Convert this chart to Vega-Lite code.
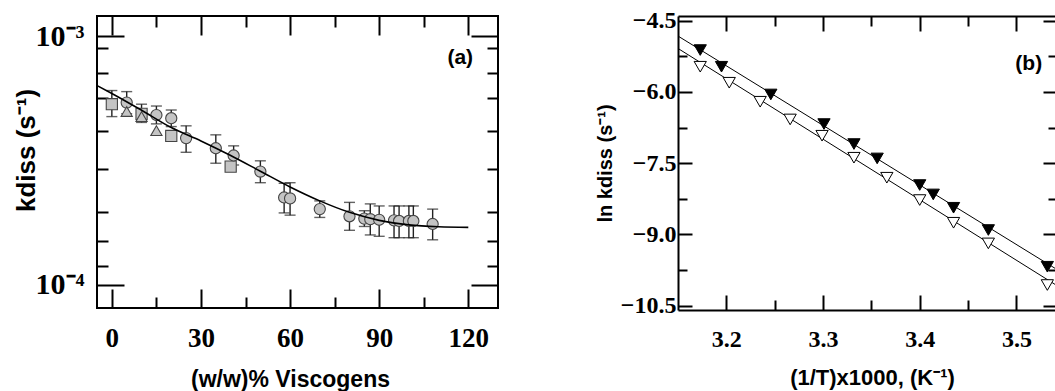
{
  "$schema": "https://vega.github.io/schema/vega-lite/v6.json",
  "padding": {"left": 11, "top": 8, "right": 0, "bottom": 0},
  "background": "white",
  "bounds": "flush",
  "spacing": 180,
  "datasets": {
    "curveA": [
      {"x": -5, "k": 0.000635}, {"x": 0, "k": 0.00059}, {"x": 10, "k": 0.000505},
      {"x": 20, "k": 0.00043}, {"x": 30, "k": 0.00038}, {"x": 40, "k": 0.000332},
      {"x": 50, "k": 0.000287}, {"x": 60, "k": 0.000248}, {"x": 70, "k": 0.000218},
      {"x": 80, "k": 0.000196}, {"x": 90, "k": 0.000182}, {"x": 100, "k": 0.0001745},
      {"x": 110, "k": 0.0001715}, {"x": 120, "k": 0.0001706}
    ],
    "ptsA": [
      {"x": 0, "k": 0.000534, "type": "square", "lo": 0.000476, "hi": 0.000606},
      {"x": 5, "k": 0.000542, "type": "circle", "lo": 0.000489, "hi": 0.0006},
      {"x": 5, "k": 0.000499, "type": "triangle"},
      {"x": 10, "k": 0.000488, "type": "square", "lo": 0.000451, "hi": 0.000534},
      {"x": 10, "k": 0.000476, "type": "triangle"},
      {"x": 15, "k": 0.000483, "type": "circle", "lo": 0.000445, "hi": 0.000525},
      {"x": 15, "k": 0.000418, "type": "triangle"},
      {"x": 20, "k": 0.000469, "type": "circle", "lo": 0.000434, "hi": 0.000506},
      {"x": 20, "k": 0.000398, "type": "square"},
      {"x": 25, "k": 0.00039, "type": "circle", "lo": 0.000342, "hi": 0.000437},
      {"x": 35, "k": 0.000355, "type": "circle", "lo": 0.000309, "hi": 0.000402},
      {"x": 40, "k": 0.0002995, "type": "square"},
      {"x": 41, "k": 0.000332, "type": "circle", "lo": 0.000304, "hi": 0.000363},
      {"x": 50, "k": 0.000286, "type": "circle", "lo": 0.000258, "hi": 0.000316},
      {"x": 58, "k": 0.000225, "type": "circle", "lo": 0.000195, "hi": 0.0002565},
      {"x": 60, "k": 0.000223, "type": "circle", "lo": 0.000191, "hi": 0.000258},
      {"x": 70, "k": 0.000202, "type": "circle", "lo": 0.000187, "hi": 0.000218},
      {"x": 80, "k": 0.000189, "type": "circle", "lo": 0.000166, "hi": 0.000215},
      {"x": 85, "k": 0.000185, "type": "circle", "lo": 0.000172, "hi": 0.000199},
      {"x": 87, "k": 0.000184, "type": "circle", "lo": 0.000159, "hi": 0.000212},
      {"x": 90, "k": 0.000183, "type": "circle", "lo": 0.000157, "hi": 0.000208},
      {"x": 95, "k": 0.000182, "type": "circle", "lo": 0.000155, "hi": 0.000208},
      {"x": 96.7, "k": 0.000181, "type": "circle", "lo": 0.000155, "hi": 0.000208},
      {"x": 100, "k": 0.000181, "type": "circle", "lo": 0.000155, "hi": 0.000208},
      {"x": 101.5, "k": 0.000181, "type": "circle", "lo": 0.000155, "hi": 0.000208},
      {"x": 108, "k": 0.000176, "type": "circle", "lo": 0.000152, "hi": 0.000202}
    ],
    "linesB": [
      {"x": 3.15, "y": -4.822, "s": "filled"}, {"x": 3.542, "y": -9.738, "s": "filled"},
      {"x": 3.15, "y": -5.083, "s": "open"}, {"x": 3.542, "y": -10.077, "s": "open"}
    ],
    "ptsB": [
      {"x": 3.173, "y": -5.117, "s": "filled"}, {"x": 3.195, "y": -5.468, "s": "filled"},
      {"x": 3.246, "y": -6.052, "s": "filled"}, {"x": 3.301, "y": -6.675, "s": "filled"},
      {"x": 3.332, "y": -7.096, "s": "filled"}, {"x": 3.356, "y": -7.399, "s": "filled"},
      {"x": 3.4, "y": -7.959, "s": "filled"}, {"x": 3.414, "y": -8.157, "s": "filled"},
      {"x": 3.435, "y": -8.437, "s": "filled"}, {"x": 3.471, "y": -8.906, "s": "filled"},
      {"x": 3.532, "y": -9.679, "s": "filled"},
      {"x": 3.173, "y": -5.468, "s": "open"}, {"x": 3.203, "y": -5.805, "s": "open"},
      {"x": 3.235, "y": -6.205, "s": "open"}, {"x": 3.266, "y": -6.578, "s": "open"},
      {"x": 3.299, "y": -6.921, "s": "open"}, {"x": 3.332, "y": -7.384, "s": "open"},
      {"x": 3.366, "y": -7.805, "s": "open"}, {"x": 3.4, "y": -8.275, "s": "open"},
      {"x": 3.435, "y": -8.753, "s": "open"}, {"x": 3.471, "y": -9.188, "s": "open"},
      {"x": 3.532, "y": -10.064, "s": "open"}
    ],
    "labA": [{"x": 117.3, "k": 0.000818, "t": "(a)"}],
    "labB": [{"x": 3.5128, "y": -5.416, "t": "(b)"}]
  },
  "config": {
    "view": {"stroke": "black", "strokeWidth": 2},
    "axis": {
      "grid": false, "tickColor": "black", "tickWidth": 2, "domainColor": "black", "domainWidth": 2,
      "labelFont": "Liberation Serif", "labelFontWeight": "bold", "labelColor": "black",
      "titleFont": "Liberation Sans", "titleFontWeight": "bold", "titleColor": "black",
      "labelFlush": false, "labelOverlap": false
    }
  },
  "hconcat": [
    {
      "width": 401, "height": 292,
      "layer": [
        {
          "data": {"name": "ptsA"},
          "transform": [{"filter": "isValid(datum.lo)"}],
          "mark": {"type": "rule", "color": "#222", "strokeWidth": 1.4},
          "encoding": {
            "x": {"field": "x", "type": "quantitative", "scale": {"domain": [-5, 130], "nice": false, "zero": false},
              "axis": {"orient": "bottom", "domain": false, "values": [0, 15, 30, 45, 60, 75, 90, 105, 120],
                "labelExpr": "datum.value % 30 === 0 ? datum.label : ''",
                "tickSize": {"condition": {"test": "datum.value % 30 === 0", "value": -19}, "value": -11},
                "labelPadding": 36, "labelFontSize": 27,
                "title": "(w/w)% Viscogens", "titleFontSize": 23, "titleX": 193, "titleY": 78, "titleBaseline": "alphabetic"}},
            "y": {"field": "lo", "type": "quantitative", "scale": {"type": "log", "domain": [0.0000808, 0.001209], "nice": false, "zero": false},
              "axis": {"orient": "left", "domain": false,
                "values": [0.001, 0.000901, 0.000715, 0.000563, 0.000416, 0.000294, 0.000197, 0.000151, 0.000119, 0.0001],
                "labelExpr": "datum.value > 0.00095 ? '10⁻³' : datum.value < 0.000105 ? '10⁻⁴' : ''",
                "tickSize": {"condition": {"test": "datum.value > 0.00095 || datum.value < 0.000105", "value": -27}, "value": -11},
                "labelPadding": 40, "labelFontSize": 30,
                "title": "kdiss (s⁻¹)", "titleFontSize": 26, "titleX": -58, "titleY": 134, "titleBaseline": "bottom"}},
            "y2": {"field": "hi"}
          }
        },
        {
          "data": {"name": "ptsA"},
          "transform": [{"filter": "isValid(datum.lo)"}],
          "mark": {"type": "tick", "orient": "horizontal", "color": "#222", "size": 11, "thickness": 1.4},
          "encoding": {
            "x": {"field": "x", "type": "quantitative", "scale": {"domain": [-5, 130], "nice": false, "zero": false}, "axis": null},
            "y": {"field": "lo", "type": "quantitative", "scale": {"type": "log", "domain": [0.0000808, 0.001209], "nice": false, "zero": false}, "axis": null}
          }
        },
        {
          "data": {"name": "ptsA"},
          "transform": [{"filter": "isValid(datum.hi)"}],
          "mark": {"type": "tick", "orient": "horizontal", "color": "#222", "size": 11, "thickness": 1.4},
          "encoding": {
            "x": {"field": "x", "type": "quantitative", "scale": {"domain": [-5, 130], "nice": false, "zero": false}, "axis": null},
            "y": {"field": "hi", "type": "quantitative", "scale": {"type": "log", "domain": [0.0000808, 0.001209], "nice": false, "zero": false}, "axis": null}
          }
        },
        {
          "data": {"name": "ptsA"},
          "mark": {"type": "point", "filled": true, "fill": "#c4c4c4", "stroke": "#444", "strokeWidth": 1.1, "size": 125, "opacity": 1},
          "encoding": {
            "x": {"field": "x", "type": "quantitative", "scale": {"domain": [-5, 130], "nice": false, "zero": false}, "axis": null},
            "y": {"field": "k", "type": "quantitative", "scale": {"type": "log", "domain": [0.0000808, 0.001209], "nice": false, "zero": false}, "axis": null},
            "shape": {"field": "type", "type": "nominal", "scale": {"domain": ["circle", "square", "triangle"], "range": ["circle", "square", "triangle-up"]}, "legend": null}
          }
        },
        {
          "data": {"name": "curveA"},
          "mark": {"type": "line", "color": "black", "strokeWidth": 1.6, "interpolate": "monotone"},
          "encoding": {
            "x": {"field": "x", "type": "quantitative", "scale": {"domain": [-5, 130], "nice": false, "zero": false},
              "axis": {"orient": "top", "domain": false, "labels": false, "title": null, "values": [0, 15, 30, 45, 60, 75, 90, 105, 120],
                "tickSize": {"condition": {"test": "datum.value % 30 === 0", "value": -19}, "value": -11}}},
            "y": {"field": "k", "type": "quantitative", "scale": {"type": "log", "domain": [0.0000808, 0.001209], "nice": false, "zero": false},
              "axis": {"orient": "right", "domain": false, "labels": false, "title": null,
                "values": [0.001, 0.000901, 0.000715, 0.000563, 0.000416, 0.000294, 0.000197, 0.000151, 0.000119, 0.0001],
                "tickSize": {"condition": {"test": "datum.value > 0.00095 || datum.value < 0.000105", "value": -27}, "value": -11}}}
          }
        },
        {
          "data": {"name": "labA"},
          "mark": {"type": "text", "font": "Liberation Sans", "fontWeight": "bold", "fontSize": 21, "align": "center", "baseline": "middle", "color": "black"},
          "encoding": {
            "x": {"field": "x", "type": "quantitative", "scale": {"domain": [-5, 130], "nice": false, "zero": false}, "axis": null},
            "y": {"field": "k", "type": "quantitative", "scale": {"type": "log", "domain": [0.0000808, 0.001209], "nice": false, "zero": false}, "axis": null},
            "text": {"field": "t"}
          }
        }
      ],
      "resolve": {"axis": {"x": "independent", "y": "independent"}}
    },
    {
      "width": 379, "height": 294,
      "view": {"stroke": null},
      "layer": [
        {
          "data": {"name": "linesB"},
          "mark": {"type": "line", "color": "black", "strokeWidth": 1, "clip": true},
          "encoding": {
            "x": {"field": "x", "type": "quantitative", "scale": {"domain": [3.15, 3.542], "nice": false, "zero": false},
              "axis": {"orient": "bottom", "domain": true, "values": [3.2, 3.25, 3.3, 3.35, 3.4, 3.45, 3.5],
                "labelExpr": "abs(datum.value * 10 - round(datum.value * 10)) < 0.001 ? format(datum.value, '.1f') : ''",
                "tickSize": {"condition": {"test": "abs(datum.value * 10 - round(datum.value * 10)) < 0.001", "value": -15}, "value": -10},
                "labelPadding": 32, "labelFontSize": 24,
                "title": "(1/T)x1000, (K⁻¹)", "titleFontSize": 22, "titleX": 194, "titleY": 74, "titleBaseline": "alphabetic"}},
            "y": {"field": "y", "type": "quantitative", "scale": {"domain": [-10.59, -4.4], "nice": false, "zero": false},
              "axis": {"orient": "left", "domain": true, "values": [-10.5, -9.75, -9, -8.25, -7.5, -6.75, -6, -5.25, -4.5],
                "labelExpr": "abs(datum.value / 1.5 - round(datum.value / 1.5)) < 0.001 ? format(datum.value, '.1f') : ''",
                "tickSize": {"condition": {"test": "abs(datum.value / 1.5 - round(datum.value / 1.5)) < 0.001", "value": -14}, "value": -9},
                "labelPadding": 16, "labelFontSize": 24,
                "title": "ln kdiss (s⁻¹)", "titleFontSize": 20, "titleX": -63, "titleBaseline": "bottom"}},
            "detail": {"field": "s"}
          }
        },
        {
          "data": {"name": "ptsB"},
          "mark": {"type": "point", "shape": "triangle-down", "size": 150, "stroke": "black", "strokeWidth": 1, "opacity": 1},
          "encoding": {
            "x": {"field": "x", "type": "quantitative", "scale": {"domain": [3.15, 3.542], "nice": false, "zero": false},
              "axis": {"orient": "top", "domain": true, "labels": false, "title": null, "values": [3.2, 3.25, 3.3, 3.35, 3.4, 3.45, 3.5],
                "tickSize": {"condition": {"test": "abs(datum.value * 10 - round(datum.value * 10)) < 0.001", "value": -15}, "value": -10}}},
            "y": {"field": "y", "type": "quantitative", "scale": {"domain": [-10.59, -4.4], "nice": false, "zero": false},
              "axis": {"orient": "right", "domain": false, "labels": false, "title": null, "values": [-10.5, -9.75, -9, -8.25, -7.5, -6.75, -6, -5.25, -4.5],
                "tickSize": {"condition": {"test": "abs(datum.value / 1.5 - round(datum.value / 1.5)) < 0.001", "value": -14}, "value": -9}}},
            "fill": {"field": "s", "type": "nominal", "scale": {"domain": ["filled", "open"], "range": ["black", "white"]}, "legend": null}
          }
        },
        {
          "data": {"name": "labB"},
          "mark": {"type": "text", "font": "Liberation Sans", "fontWeight": "bold", "fontSize": 21, "align": "center", "baseline": "middle", "color": "black"},
          "encoding": {
            "x": {"field": "x", "type": "quantitative", "scale": {"domain": [3.15, 3.542], "nice": false, "zero": false}, "axis": null},
            "y": {"field": "y", "type": "quantitative", "scale": {"domain": [-10.59, -4.4], "nice": false, "zero": false}, "axis": null},
            "text": {"field": "t"}
          }
        }
      ],
      "resolve": {"axis": {"x": "independent", "y": "independent"}}
    }
  ]
}
